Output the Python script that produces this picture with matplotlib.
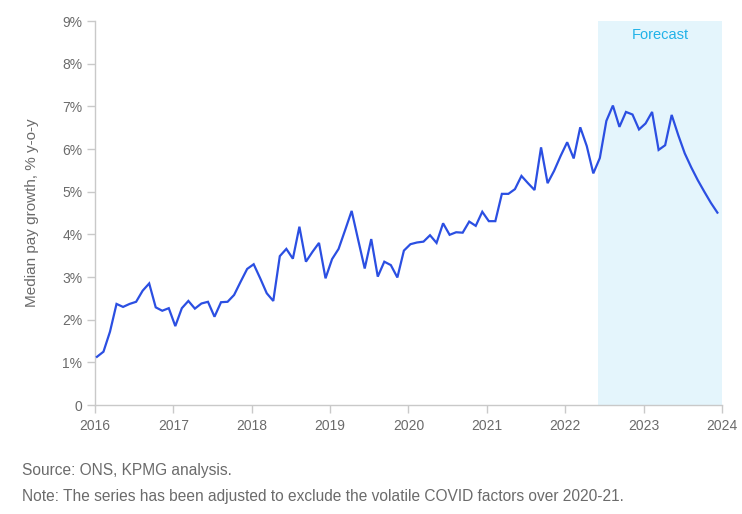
import numpy as np
import matplotlib
matplotlib.use("Agg")
import matplotlib.pyplot as plt
from matplotlib.ticker import FuncFormatter

plt.rcParams["font.family"] = ["Liberation Sans", "DejaVu Sans"]

# monthly median pay growth, % y-o-y, Jan 2016 .. Dec 2023
growth = [
    1.13, 1.25, 1.72, 2.37, 2.30, 2.37, 2.42, 2.68, 2.85, 2.29, 2.21, 2.27,   # 2016
    1.85, 2.27, 2.44, 2.26, 2.38, 2.42, 2.07, 2.41, 2.42, 2.58, 2.89, 3.19,   # 2017
    3.30, 2.97, 2.62, 2.44, 3.49, 3.66, 3.43, 4.18, 3.36, 3.59, 3.80, 2.97,   # 2018
    3.42, 3.66, 4.10, 4.55, 3.87, 3.20, 3.89, 3.01, 3.36, 3.28, 2.99, 3.62,   # 2019
    3.77, 3.81, 3.83, 3.98, 3.80, 4.26, 3.99, 4.05, 4.04, 4.30, 4.20, 4.53,   # 2020
    4.31, 4.31, 4.95, 4.95, 5.06, 5.37, 5.20, 5.04, 6.04, 5.20, 5.49, 5.84,   # 2021
    6.16, 5.78, 6.51, 6.07, 5.43, 5.79, 6.66, 7.02, 6.52, 6.87, 6.81, 6.46,   # 2022
    6.60, 6.87, 5.98, 6.09, 6.80, 6.33, 5.90, 5.57, 5.27, 5.00, 4.74, 4.51,   # 2023
]
start_year = 2016
forecast_start = 2022.415
years = list(range(2016, 2025))
y_ticks = list(range(0, 10))

LINE = "#2b4fe2"
SHADE = "#e4f5fc"
FORE_TXT = "#21b2e8"
SPINE = "#c9c9c9"
TXT = "#6b6b6b"

x = start_year + (np.arange(len(growth)) + 0.3) / 12

fig = plt.figure(figsize=(7.42, 5.14), dpi=100)
ax = fig.add_axes([0.128, 0.212, 0.845, 0.747])

ax.axvspan(forecast_start, years[-1], color=SHADE, lw=0, zorder=0)
ax.text((forecast_start + years[-1]) / 2, 8.68, "Forecast", color=FORE_TXT,
        fontsize=10.5, ha="center", va="center")
ax.plot(x, growth, color=LINE, lw=1.6, zorder=3, solid_joinstyle="miter")

ax.set_xlim(years[0], years[-1])
ax.set_ylim(0, 9)
ax.set_xticks(years)
ax.set_yticks(y_ticks)
ax.yaxis.set_major_formatter(FuncFormatter(lambda v, p: "0" if v == 0 else f"{v:.0f}%"))

for s in ("top", "right"):
    ax.spines[s].set_visible(False)
for s in ("left", "bottom"):
    ax.spines[s].set_color(SPINE)
    ax.spines[s].set_linewidth(1.0)
ax.tick_params(axis="both", colors=SPINE, labelcolor=TXT, labelsize=10,
               length=6, width=1.0)
ax.tick_params(axis="x", pad=4)
ax.tick_params(axis="y", pad=3)

ax.set_ylabel("Median pay growth, % y-o-y", color=TXT, fontsize=11, labelpad=17)

fig.text(22 / 742, 1 - 470 / 514, "Source: ONS, KPMG analysis.", color=TXT,
         fontsize=11.2, va="center", ha="left")
fig.text(22 / 742, 1 - 497 / 514,
         "Note: The series has been adjusted to exclude the volatile COVID factors over 2020-21.",
         color=TXT, fontsize=11.2, va="center", ha="left")

fig.savefig("out.png", dpi=100)
